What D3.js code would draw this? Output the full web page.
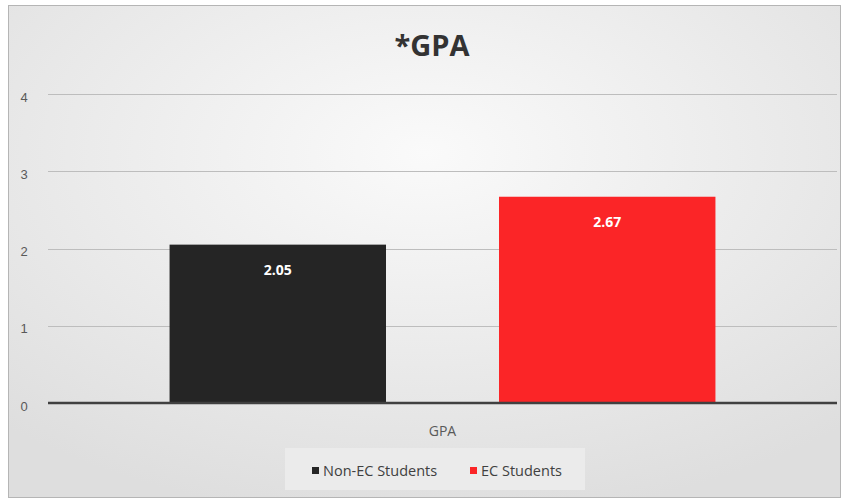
<!DOCTYPE html>
<html>
<head>
<meta charset="utf-8">
<script src="https://cdn.jsdelivr.net/npm/d3@7"></script>
<style>
  html, body { margin: 0; padding: 0; background: #fff; }
  svg { display: block; font-family: "Open Sans", sans-serif; }
</style>
</head>
<body>
<svg id="chart" width="845" height="500"></svg>
<script>
// --- Données ---
const categories = ["GPA"];
const seriesNames = ["Non-EC Students", "EC Students"];
const seriesValues = [2.05, 2.67];
const seriesColors = ["#252525", "#fb2527"];
const yTicks = [0, 1, 2, 3, 4];

const svg = d3.select("#chart");

// fond dégradé façon Excel
const defs = svg.append("defs");
const grad = defs.append("radialGradient")
    .attr("id", "bg")
    .attr("cx", "50%").attr("cy", "30%").attr("r", "75%");
grad.append("stop").attr("offset", "0%").attr("stop-color", "#fafafa");
grad.append("stop").attr("offset", "100%").attr("stop-color", "#dedede");

svg.append("rect")
    .attr("x", 8.5).attr("y", 5.5)
    .attr("width", 832).attr("height", 492)
    .attr("fill", "url(#bg)")
    .attr("stroke", "#b5b5b5");

// Échelles
const plot = { left: 48, right: 837, top: 94, bottom: 403 };

const x0 = d3.scaleBand()
    .domain(categories)
    .range([plot.left, plot.right]);

const x1 = d3.scaleBand()
    .domain(seriesNames)
    .range([0, x0.bandwidth()])
    .paddingInner(0.343)
    .paddingOuter(0.369);

const y = d3.scaleLinear()
    .domain([0, 4])
    .range([plot.bottom, plot.top]);

// Grille
svg.append("g")
    .selectAll("line")
    .data(yTicks.filter(d => d > 0))
    .join("line")
    .attr("x1", plot.left).attr("x2", plot.right)
    .attr("y1", d => Math.round(y(d)) + 0.5)
    .attr("y2", d => Math.round(y(d)) + 0.5)
    .attr("stroke", "#bdbdbd")
    .attr("stroke-width", 1);

// Axe Y (étiquettes seulement)
const yAxis = svg.append("g")
    .attr("transform", `translate(${plot.left - 24},3)`)
    .call(d3.axisLeft(y).tickValues(yTicks).tickSize(0).tickPadding(0).tickFormat(d3.format("d")));
yAxis.select(".domain").remove();
yAxis.selectAll("text")
    .attr("text-anchor", "middle")
    .attr("fill", "#595959")
    .style("font-size", "13px");

// Barres
const groups = svg.append("g")
    .selectAll("g")
    .data(categories)
    .join("g")
    .attr("transform", d => `translate(${x0(d)},0)`);

const bars = groups.selectAll("g.bar")
    .data(() => seriesNames.map((s, i) => ({ name: s, value: seriesValues[i], color: seriesColors[i] })))
    .join("g")
    .attr("class", "bar");

bars.append("rect")
    .attr("x", d => x1(d.name))
    .attr("y", d => y(d.value))
    .attr("width", x1.bandwidth())
    .attr("height", d => y(0) - y(d.value))
    .attr("fill", d => d.color);

bars.append("text")
    .attr("x", d => x1(d.name) + x1.bandwidth() / 2)
    .attr("y", d => y(d.value) + 30)
    .attr("text-anchor", "middle")
    .attr("fill", "#fff")
    .style("font-size", "14px")
    .style("font-weight", "bold")
    .text(d => d.value.toFixed(2));

// Axe X
svg.append("line")
    .attr("x1", plot.left).attr("x2", plot.right)
    .attr("y1", y(0)).attr("y2", y(0))
    .attr("stroke", "#404040")
    .attr("stroke-width", 2.5);

svg.append("g")
    .selectAll("text")
    .data(categories)
    .join("text")
    .attr("x", d => x0(d) + x0.bandwidth() / 2)
    .attr("y", 436)
    .attr("text-anchor", "middle")
    .attr("fill", "#595959")
    .style("font-size", "14px")
    .text(d => d);

// Titre
svg.append("text")
    .attr("x", 432)
    .attr("y", 56)
    .attr("text-anchor", "middle")
    .attr("fill", "#333")
    .style("font-size", "29px")
    .style("font-weight", "bold")
    .text("*GPA");

// Légende
const legend = svg.append("g");
legend.append("rect")
    .attr("x", 285).attr("y", 448)
    .attr("width", 300).attr("height", 42)
    .attr("fill", "#ebebeb");

const legendX = [312, 470];
const items = legend.selectAll("g")
    .data(seriesNames)
    .join("g")
    .attr("transform", (d, i) => `translate(${legendX[i]},476)`);
items.append("rect")
    .attr("x", 0).attr("y", -9)
    .attr("width", 7).attr("height", 7)
    .attr("fill", (d, i) => seriesColors[i]);
items.append("text")
    .attr("x", 11).attr("y", 0)
    .attr("fill", "#404040")
    .style("font-size", "14.5px")
    .text(d => d);
</script>
</body>
</html>
